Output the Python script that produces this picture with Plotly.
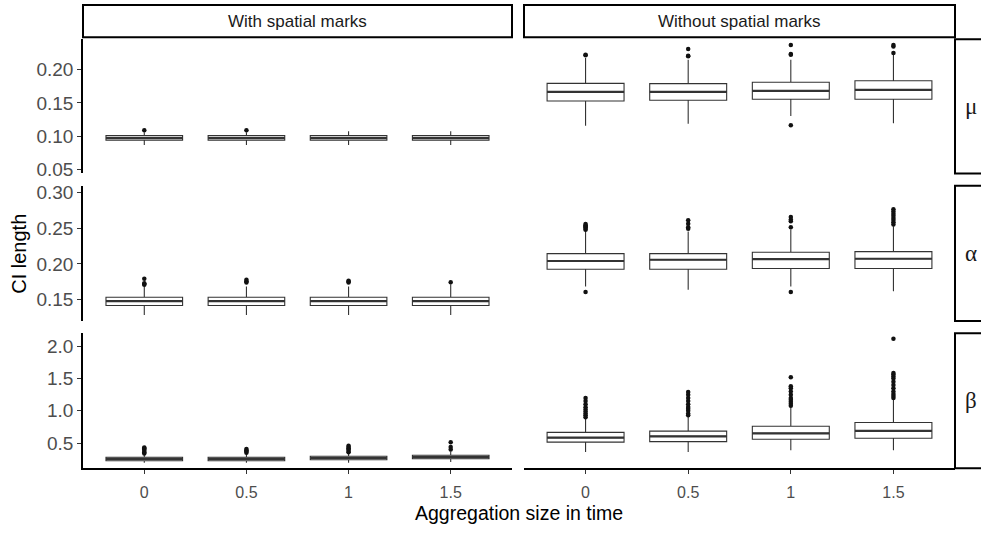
import plotly.graph_objects as go

categories = ["0", "0.5", "1", "1.5"]
columns = ["With spatial marks", "Without spatial marks"]
params = ["μ", "α", "β"]

# ---- box statistics (q1, median, q3, lower whisker, upper whisker) ----
mu_with_q1 = [0.0941, 0.0941, 0.0941, 0.0941]
mu_with_med = [0.0975, 0.0975, 0.0975, 0.0975]
mu_with_q3 = [0.1010, 0.1010, 0.1010, 0.1010]
mu_with_lo = [0.0868, 0.0868, 0.0868, 0.0868]
mu_with_hi = [0.1059, 0.1059, 0.1074, 0.1074]
mu_with_out = [[0.1088], [0.1088], [], []]

mu_without_q1 = [0.1529, 0.1540, 0.1555, 0.1555]
mu_without_med = [0.1666, 0.1666, 0.1680, 0.1696]
mu_without_q3 = [0.1794, 0.1790, 0.1810, 0.1834]
mu_without_lo = [0.1157, 0.1187, 0.1304, 0.1196]
mu_without_hi = [0.2176, 0.2150, 0.2150, 0.2225]
mu_without_out = [[0.2215, 0.2225], [0.2200, 0.2210, 0.2310],
                  [0.2225, 0.2235, 0.2370, 0.1166], [0.2250, 0.2349, 0.2368]]

alpha_with_q1 = [0.1422, 0.1422, 0.1422, 0.1422]
alpha_with_med = [0.1482, 0.1482, 0.1482, 0.1482]
alpha_with_q3 = [0.1537, 0.1537, 0.1537, 0.1537]
alpha_with_lo = [0.1290, 0.1290, 0.1290, 0.1290]
alpha_with_hi = [0.1687, 0.1687, 0.1687, 0.1718]
alpha_with_out = [[0.1710, 0.1720, 0.1730, 0.1795], [0.1740, 0.1760, 0.1780],
                  [0.1740, 0.1755, 0.1765], [0.1745]]

alpha_without_q1 = [0.1926, 0.1926, 0.1936, 0.1936]
alpha_without_med = [0.2041, 0.2058, 0.2068, 0.2072]
alpha_without_q3 = [0.2144, 0.2144, 0.2163, 0.2172]
alpha_without_lo = [0.1687, 0.1640, 0.1687, 0.1619]
alpha_without_hi = [0.2457, 0.2450, 0.2480, 0.2526]
alpha_without_out = [[0.2475, 0.2490, 0.2510, 0.2525, 0.2540, 0.2555, 0.1609],
                     [0.2490, 0.2510, 0.2558, 0.2607],
                     [0.2512, 0.2594, 0.2620, 0.2653, 0.1610],
                     [0.2550, 0.2580, 0.2610, 0.2640, 0.2670, 0.2700, 0.2730, 0.2763]]

beta_with_q1 = [0.227, 0.227, 0.242, 0.258]
beta_with_med = [0.255, 0.255, 0.270, 0.285]
beta_with_q3 = [0.282, 0.282, 0.297, 0.312]
beta_with_lo = [0.197, 0.197, 0.197, 0.210]
beta_with_hi = [0.330, 0.330, 0.348, 0.370]
beta_with_out = [[0.34, 0.36, 0.38, 0.40, 0.42, 0.433], [0.35, 0.37, 0.39, 0.41],
                 [0.36, 0.38, 0.40, 0.42, 0.44, 0.459], [0.40, 0.44, 0.515]]

beta_without_q1 = [0.515, 0.524, 0.560, 0.576]
beta_without_med = [0.585, 0.606, 0.651, 0.691]
beta_without_q3 = [0.667, 0.686, 0.762, 0.818]
beta_without_lo = [0.364, 0.364, 0.388, 0.388]
beta_without_hi = [0.879, 0.903, 1.055, 1.180]
beta_without_out = [[0.90, 0.93, 0.96, 0.99, 1.02, 1.055, 1.10, 1.15, 1.20],
                    [0.93, 0.96, 1.00, 1.03, 1.06, 1.10, 1.15, 1.20, 1.25, 1.29],
                    [1.08, 1.11, 1.14, 1.17, 1.20, 1.25, 1.30, 1.35, 1.38, 1.52],
                    [1.20, 1.23, 1.26, 1.30, 1.35, 1.40, 1.45, 1.50, 1.53, 1.56, 1.585, 2.115]]

y_ticks_mu = [0.05, 0.10, 0.15, 0.20]
y_ticks_alpha = [0.15, 0.20, 0.25, 0.30]
y_ticks_beta = [0.5, 1.0, 1.5, 2.0]
y_range_mu = [0.0441, 0.2456]
y_range_alpha = [0.1207, 0.3089]
y_range_beta = [0.1106, 2.2015]

panels = [
    [(mu_with_q1, mu_with_med, mu_with_q3, mu_with_lo, mu_with_hi, mu_with_out),
     (mu_without_q1, mu_without_med, mu_without_q3, mu_without_lo, mu_without_hi, mu_without_out)],
    [(alpha_with_q1, alpha_with_med, alpha_with_q3, alpha_with_lo, alpha_with_hi, alpha_with_out),
     (alpha_without_q1, alpha_without_med, alpha_without_q3, alpha_without_lo, alpha_without_hi, alpha_without_out)],
    [(beta_with_q1, beta_with_med, beta_with_q3, beta_with_lo, beta_with_hi, beta_with_out),
     (beta_without_q1, beta_without_med, beta_without_q3, beta_without_lo, beta_without_hi, beta_without_out)],
]
row_ticks = [y_ticks_mu, y_ticks_alpha, y_ticks_beta]
row_ranges = [y_range_mu, y_range_alpha, y_range_beta]
row_fmt = [".2f", ".2f", ".1f"]

# ---- layout geometry (pixels) ----
W, H = 981, 538
col_px = [(83, 512), (524, 955)]
row_px = [(36, 173), (185.5, 323.5), (336, 474)]
strip_top = (1, 34)
right_strip_x = (955, 1000)

def px(x):
    return x / W

def py(y):
    return 1 - y / H

BOX_COL = "#333333"
BOX_W = 0.75
FONT = "Liberation Sans, Arial"
fig = go.Figure()
layout = {}
xpos = list(range(len(categories)))

for r in range(3):
    for c in range(2):
        idx = r * 2 + c + 1
        xa = "x" if idx == 1 else f"x{idx}"
        ya = "y" if idx == 1 else f"y{idx}"
        q1, med, q3, lo, hi, outs = panels[r][c]
        fig.add_trace(go.Box(
            x=xpos, q1=q1, median=med, q3=q3, lowerfence=lo, upperfence=hi,
            width=BOX_W, whiskerwidth=0, fillcolor="white",
            line=dict(color=BOX_COL, width=1.1),
            boxpoints=False, hoverinfo="skip", showlegend=False,
            xaxis=xa, yaxis=ya,
        ))
        # thicker median lines
        mx, my = [], []
        for i in xpos:
            mx += [i - BOX_W / 2, i + BOX_W / 2, None]
            my += [med[i], med[i], None]
        fig.add_trace(go.Scatter(x=mx, y=my, mode="lines",
                                 line=dict(color=BOX_COL, width=2.2),
                                 hoverinfo="skip", showlegend=False,
                                 xaxis=xa, yaxis=ya))
        ox, oy = [], []
        for i in xpos:
            ox += [i] * len(outs[i])
            oy += outs[i]
        fig.add_trace(go.Scatter(x=ox, y=oy, mode="markers",
                                 marker=dict(color="#111111", size=4.5),
                                 hoverinfo="skip", showlegend=False,
                                 xaxis=xa, yaxis=ya))

        x0, x1 = col_px[c]
        y0, y1 = row_px[r]
        bottom = (r == 2)
        left = (c == 0)
        layout["xaxis" if idx == 1 else f"xaxis{idx}"] = dict(
            domain=[px(x0), px(x1)], anchor=ya, range=[-0.6, 3.6],
            tickmode="array", tickvals=xpos, ticktext=categories,
            showticklabels=bottom, ticks="outside" if bottom else "",
            ticklen=4, tickwidth=1, tickcolor="#333333", ticklabelstandoff=5,
            showline=bottom, linecolor="black", linewidth=1.5,
            showgrid=False, zeroline=False,
            tickfont=dict(family=FONT, size=16, color="#4d4d4d"),
        )
        layout["yaxis" if idx == 1 else f"yaxis{idx}"] = dict(
            domain=[py(y1), py(y0)], anchor=xa, range=row_ranges[r],
            tickmode="array", tickvals=row_ticks[r], tickformat=row_fmt[r],
            showticklabels=left, ticks="outside" if left else "",
            ticklen=4, tickwidth=1, tickcolor="#333333",
            showline=left, linecolor="black", linewidth=1.5,
            showgrid=False, zeroline=False,
            tickfont=dict(family=FONT, size=19, color="#4d4d4d"),
        )

shapes = []
annotations = []
for c in range(2):
    x0, x1 = col_px[c]
    shapes.append(dict(type="rect", xref="paper", yref="paper",
                       x0=px(x0), x1=px(x1), y0=py(strip_top[1]), y1=py(strip_top[0]),
                       line=dict(color="black", width=2), fillcolor="white", layer="below"))
    annotations.append(dict(text=columns[c], xref="paper", yref="paper",
                            x=px((x0 + x1) / 2), y=py((strip_top[0] + strip_top[1]) / 2),
                            showarrow=False, xanchor="center", yanchor="middle",
                            font=dict(family=FONT, size=17, color="#1a1a1a")))
for r in range(3):
    y0, y1 = row_px[r]
    shapes.append(dict(type="rect", xref="paper", yref="paper",
                       x0=px(right_strip_x[0]), x1=px(right_strip_x[1]), y0=py(y1), y1=py(y0),
                       line=dict(color="black", width=2), fillcolor="white", layer="below"))
    annotations.append(dict(text=params[r], xref="paper", yref="paper",
                            x=px(971), y=py((y0 + y1) / 2),
                            showarrow=False, xanchor="center", yanchor="middle",
                            font=dict(family="Liberation Serif, Times New Roman, serif", size=23, color="#1a1a1a")))

annotations.append(dict(text="CI length", xref="paper", yref="paper",
                        x=px(19), y=py(255), textangle=-90, showarrow=False,
                        xanchor="center", yanchor="middle",
                        font=dict(family=FONT, size=20, color="black")))
annotations.append(dict(text="Aggregation size in time", xref="paper", yref="paper",
                        x=px(519), y=py(520), showarrow=False,
                        xanchor="center", yanchor="middle",
                        font=dict(family=FONT, size=19.5, color="black")))

fig.update_layout(
    width=W, height=H, margin=dict(l=0, r=0, t=0, b=0),
    paper_bgcolor="white", plot_bgcolor="white",
    shapes=shapes, annotations=annotations, showlegend=False,
    **layout,
)

fig.write_html("out.html")
